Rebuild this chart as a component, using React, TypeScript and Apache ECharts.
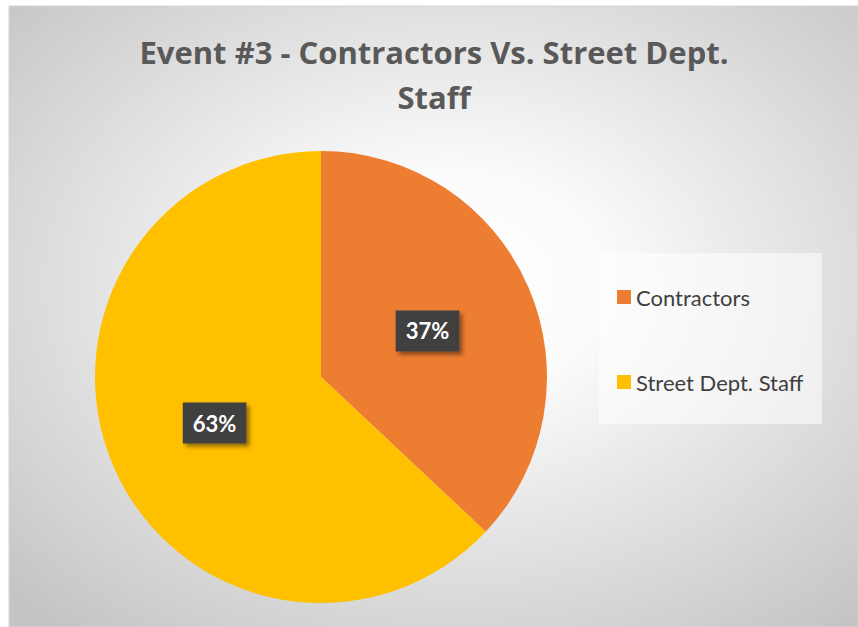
import React, { useEffect, useRef } from "react";
import * as echarts from "echarts";

const titleLines = ["Event #3 - Contractors Vs. Street Dept.", "Staff"];
const categories = ["Contractors", "Street Dept. Staff"];
const values = [37, 63];
const colors = ["#ED7D31", "#FFC000"];

export default function App() {
  const ref = useRef<HTMLDivElement>(null);
  useEffect(() => {
    if (!ref.current) return;
    const chart = echarts.init(ref.current, null, { renderer: "svg" });
    chart.setOption({
      animation: false,
      graphic: [
        {
          type: "rect",
          z: -10,
          silent: true,
          shape: { x: 9, y: 6, width: 849, height: 621 },
          style: {
            fill: {
              type: "radial",
              x: 0.52,
              y: 0.45,
              r: 0.72,
              colorStops: [
                { offset: 0, color: "#ffffff" },
                { offset: 0.25, color: "#fbfbfb" },
                { offset: 1, color: "#c4c4c4" },
              ],
            },
            stroke: "#d4d4d4",
            lineWidth: 1,
          },
        },
        {
          type: "rect",
          z: -5,
          silent: true,
          shape: { x: 599, y: 253, width: 223, height: 171 },
          style: { fill: "rgba(255,255,255,0.55)" },
        },
        {
          type: "text",
          z: 5,
          silent: true,
          style: {
            x: 434,
            y: 29,
            text: titleLines.join("\n"),
            fill: "#595959",
            fontFamily: "Open Sans",
            fontWeight: "bold",
            fontSize: 31,
            lineHeight: 45,
            align: "center",
            verticalAlign: "top",
          },
        },
      ],
      legend: {
        orient: "vertical",
        left: 617,
        top: 286,
        padding: 0,
        itemWidth: 14,
        itemHeight: 14,
        itemGap: 63,
        icon: "rect",
        data: categories,
        textStyle: {
          color: "#404040",
          fontFamily: "Lato",
          fontSize: 22,
          lineHeight: 22,
        },
      },
      series: [
        {
          type: "pie",
          center: [321, 377],
          radius: 226,
          startAngle: 90,
          clockwise: true,
          data: categories.map((c, i) => ({
            name: c,
            value: values[i],
            itemStyle: { color: colors[i] },
          })),
          label: {
            position: "inside",
            formatter: "{d}%",
            color: "#ffffff",
            fontFamily: "Lato",
            fontWeight: "bold",
            fontSize: 22,
            backgroundColor: "#404040",
            padding: [11, 10, 8, 10],
            shadowColor: "rgba(0,0,0,0.45)",
            shadowBlur: 4,
            shadowOffsetX: 3,
            shadowOffsetY: 3,
          },
          labelLine: { show: false },
          emphasis: { disabled: true },
        },
      ],
    });
    return () => chart.dispose();
  }, []);
  return (
    <div
      ref={ref}
      style={{ position: "absolute", left: 0, top: 0, width: 858, height: 627 }}
    />
  );
}
